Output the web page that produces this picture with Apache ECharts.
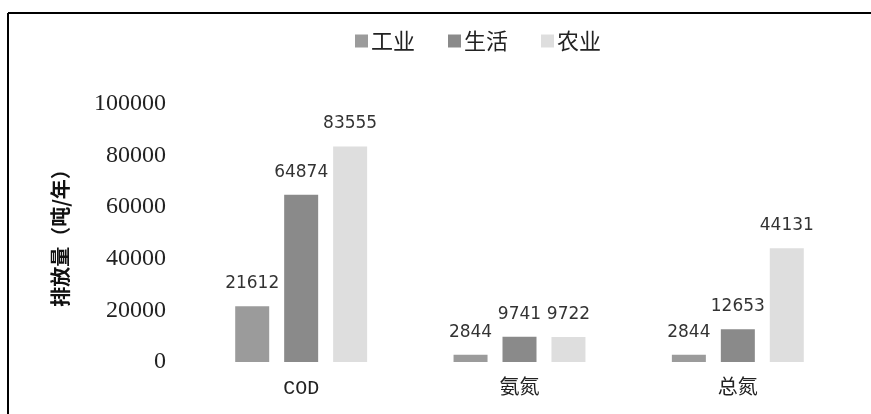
<!DOCTYPE html>
<html>
<head>
<meta charset="utf-8">
<script src="https://cdn.jsdelivr.net/npm/echarts@6/dist/echarts.min.js"></script>
<style>
html,body{margin:0;padding:0;background:#fff;}
#main{width:871px;height:414px;}
</style>
</head>
<body>
<div id="main"></div>
<script>
const categories = ['COD', '氨氮', '总氮'];
const seriesNames = ['工业', '生活', '农业'];
const industry = [21612, 2844, 2844];
const domestic = [64874, 9741, 12653];
const agriculture = [83555, 9722, 44131];
const yTicks = { min: 0, max: 100000, interval: 20000 };
const colors = ['#9b9b9b', '#8a8a8a', '#dedede'];

const chart = echarts.init(document.getElementById('main'));
const labelStyle = {
  show: true,
  position: 'top',
  distance: 14,
  fontFamily: 'DejaVu Sans',
  fontSize: 17,
  color: '#333'
};
const makeSeries = (name, data, color) => ({
  name: name,
  type: 'bar',
  data: data,
  barWidth: 34,
  barGap: '44%',
  itemStyle: { color: color },
  label: labelStyle
});
chart.setOption({
  animation: false,
  backgroundColor: '#fff',
  color: colors,
  legend: {
    left: 350,
    top: 25,
    itemWidth: 13,
    itemHeight: 13,
    itemGap: 33,
    icon: 'rect',
    textStyle: { fontFamily: 'Noto Sans CJK SC', fontSize: 22, color: '#222', padding: [0, 0, 0, -2] },
    data: seriesNames
  },
  grid: { left: 192, right: 24, top: 104, bottom: 52 },
  xAxis: {
    type: 'category',
    data: categories,
    axisLine: { show: false },
    axisTick: { show: false },
    axisLabel: {
      margin: 17,
      fontFamily: 'Liberation Mono, Noto Sans CJK SC',
      fontSize: 20,
      color: '#222'
    }
  },
  yAxis: {
    type: 'value',
    min: yTicks.min,
    max: yTicks.max,
    interval: yTicks.interval,
    name: '排放量（吨/年）',
    nameLocation: 'middle',
    nameGap: 122,
    nameTextStyle: { fontFamily: 'Noto Sans CJK SC', fontWeight: 'bold', fontSize: 20, color: '#111' },
    splitLine: { show: false },
    axisLine: { show: false },
    axisTick: { show: false },
    axisLabel: {
      margin: 26,
      fontFamily: 'Liberation Serif',
      fontSize: 24,
      color: '#222',
      formatter: (v) => String(v)
    }
  },
  graphic: [
    { type: 'line', shape: { x1: 8, y1: 13, x2: 871, y2: 13 }, style: { stroke: '#000', lineWidth: 2 } },
    { type: 'line', shape: { x1: 8, y1: 13, x2: 8, y2: 414 }, style: { stroke: '#000', lineWidth: 2 } }
  ],
  series: [
    makeSeries(seriesNames[0], industry, colors[0]),
    makeSeries(seriesNames[1], domestic, colors[1]),
    makeSeries(seriesNames[2], agriculture, colors[2])
  ]
});
</script>
</body>
</html>
